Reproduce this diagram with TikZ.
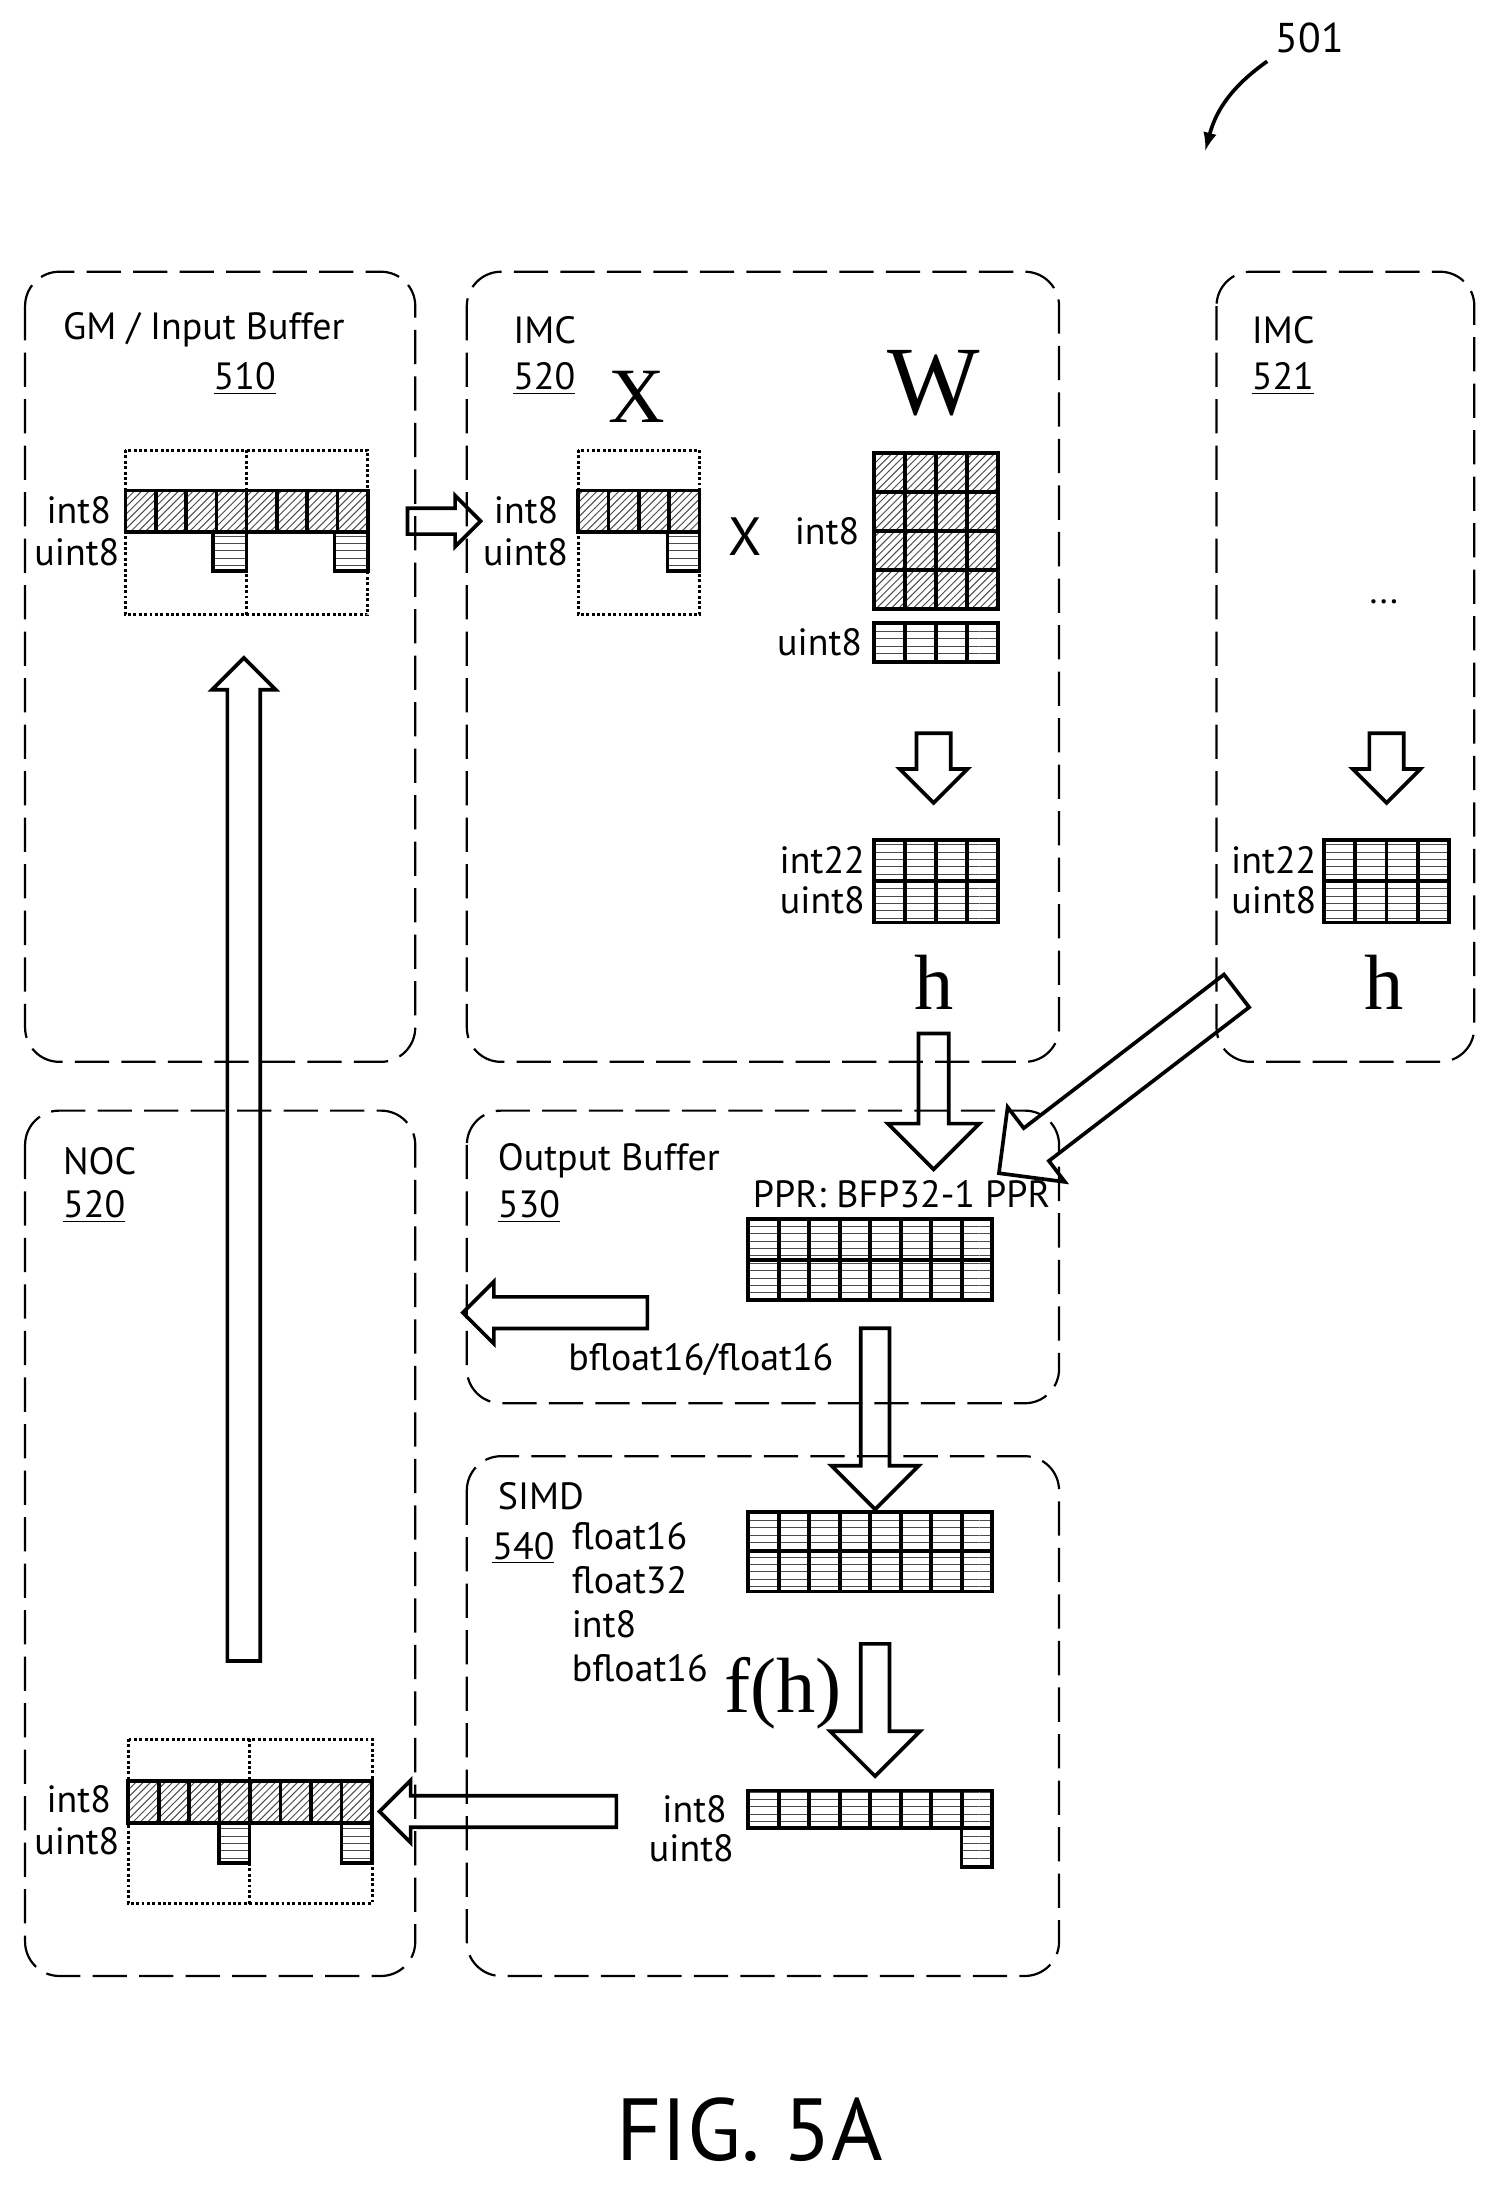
\documentclass[tikz,border=0pt]{standalone}
\usepackage{fontspec}
\setmainfont{PT Sans}
\newfontfamily\varfont{Liberation Serif}
\usetikzlibrary{shapes.arrows,patterns,calc}

% one row of cells: x0,y0,x1,y1,cells,pattern
\newcommand\cellrow[6]{%
  \fill[pattern=#6,pattern color=black!70] (#1,#2) rectangle (#3,#4);
  \draw[cell] (#1,#2) rectangle (#3,#4);
  \foreach \k in {1,...,#5} {\draw[cell] ({#1+(#3-#1)*\k/#5},#2) -- ({#1+(#3-#1)*\k/#5},#4);}
}

\begin{document}
\begin{tikzpicture}[
        x=0.02cm, y=-0.02cm,
        box/.style={draw, dash pattern=on 14pt off 5pt, rounded corners=14pt, line width=0.9pt},
        frame/.style={draw, densely dotted, line width=1.2pt},
        cell/.style={line width=1.5pt},
        lbl/.style={font=\fontsize{15.5}{16}\selectfont, inner sep=0pt, align=right},
        ttl/.style={font=\fontsize{15.5}{18}\selectfont, inner sep=0pt, anchor=west, align=left},
        var/.style={font=\varfont\fontsize{32}{32}\selectfont, inner sep=0pt},
        blk/.style 2 args={single arrow, draw, line width=1.5pt, single arrow head extend=#1,
            inner xsep=0pt, inner ysep=#2, anchor=center}
    ]
        \useasboundingbox (0,0) rectangle (1075,1571.6);

        % reference mark
        \node[font=\fontsize{17}{18}\selectfont] (ref) at (940,27) {501};
        \coordinate (refend) at (865,108);
        \draw[line width=1.5pt,-latex] (ref.south west) to[bend right=20] (refend);

        % regions
        \draw[box] (18,195) rectangle (298,762);
        \draw[box] (335,195) rectangle (760,762);
        \draw[box] (873,195) rectangle (1058,762);
        \draw[box] (18,797) rectangle (298,1418);
        \draw[box] (335,797) rectangle (760,1007);
        \draw[box] (335,1045) rectangle (760,1418);

        % titles
        \node[ttl] (gm) at (45,237) {GM / Input Buffer};
        \node[ttl] (gmnum) at (153,272) {\underline{510}};
        \node[ttl] (imc) at (368,237) {IMC};
        \node[ttl] (imcnum) at (368,272) {\underline{520}};
        \node[ttl] (imcb) at (898,237) {IMC};
        \node[ttl] (imcbnum) at (898,272) {\underline{521}};
        \node[ttl] (noc) at (45,833) {NOC};
        \node[ttl] (nocnum) at (45,866) {\underline{520}};
        \node[ttl] (outb) at (357,833) {Output Buffer};
        \node[ttl] (outbnum) at (357,866) {\underline{530}};
        \node[ttl] (simd) at (357,1074) {SIMD};
        \node[ttl] (simdnum) at (353,1111) {\underline{540}};
        \node[ttl, anchor=north west] (types) at (410,1092) {float16\\float32\\int8\\bfloat16};

        % input buffer vector
        \draw[frame] (90,323) rectangle (264,441);
        \draw[frame] (177,323) -- (177,441);
        \cellrow{90}{352}{264}{382}{8}{north east lines}
        \cellrow{153}{382}{177}{410}{1}{horizontal lines}
        \cellrow{240}{382}{264}{410}{1}{horizontal lines}
        \node[lbl, anchor=east] (gmi) at (80,366) {int8};
        \node[lbl, anchor=east] (gmu) at (86,396) {uint8};

        % IMC input vector
        \draw[frame] (415,323) rectangle (502,441);
        \cellrow{415}{352}{502}{382}{4}{north east lines}
        \cellrow{479}{382}{502}{410}{1}{horizontal lines}
        \node[lbl, anchor=east] (xi) at (401,366) {int8};
        \node[lbl, anchor=east] (xu) at (408,396) {uint8};
        \node[var] (xlab) at (457,285) {X};
        \node[font=\fontsize{22}{22}\selectfont] (times) at (535,385) {X};

        % weights
        \node[var, font=\varfont\fontsize{40}{40}\selectfont] (wlab) at (670,275) {W};
        \cellrow{627}{325}{716}{353}{4}{north east lines}
        \cellrow{627}{353}{716}{381}{4}{north east lines}
        \cellrow{627}{381}{716}{409}{4}{north east lines}
        \cellrow{627}{409}{716}{437}{4}{north east lines}
        \cellrow{627}{447}{716}{475}{4}{horizontal lines}
        \node[lbl, anchor=east] (wi) at (617,381) {int8};
        \node[lbl, anchor=east] (wu) at (619,461) {uint8};

        % IMC outputs
        \cellrow{627}{603}{716}{632}{4}{horizontal lines}
        \cellrow{627}{632}{716}{662}{4}{horizontal lines}
        \node[lbl, anchor=east] (hai) at (621,617) {int22};
        \node[lbl, anchor=east] (hau) at (621,646) {uint8};
        \node[var] (ha) at (670,705) {h};
        \node[font=\fontsize{15}{15}\selectfont] (dots) at (993,432) {...};
        \cellrow{950}{603}{1040}{632}{4}{horizontal lines}
        \cellrow{950}{632}{1040}{662}{4}{horizontal lines}
        \node[lbl, anchor=east] (hbi) at (945,617) {int22};
        \node[lbl, anchor=east] (hbu) at (945,646) {uint8};
        \node[var] (hb) at (993,705) {h};

        % output buffer
        \node[lbl, anchor=center] (ppr) at (647,857) {PPR: BFP32-1 PPR};
        \cellrow{537}{875}{712}{904}{8}{horizontal lines}
        \cellrow{537}{904}{712}{933}{8}{horizontal lines}
        \node[lbl, anchor=center] (bf) at (503,976) {bfloat16/float16};

        % SIMD
        \cellrow{537}{1085}{712}{1113}{8}{horizontal lines}
        \cellrow{537}{1113}{712}{1142}{8}{horizontal lines}
        \node[var] (fh) at (562,1215) {f(h)};
        \cellrow{537}{1285}{712}{1312}{8}{horizontal lines}
        \cellrow{690}{1312}{712}{1340}{1}{horizontal lines}
        \node[lbl, anchor=east] (si) at (522,1298) {int8};
        \node[lbl, anchor=east] (su) at (527,1326) {uint8};

        % NOC vector
        \draw[frame] (92,1248) rectangle (267,1366);
        \draw[frame] (179,1248) -- (179,1366);
        \cellrow{92}{1278}{267}{1308}{8}{north east lines}
        \cellrow{157}{1308}{179}{1337}{1}{horizontal lines}
        \cellrow{245}{1308}{267}{1337}{1}{horizontal lines}
        \node[lbl, anchor=east] (ni) at (80,1291) {int8};
        \node[lbl, anchor=east] (nu) at (86,1321) {uint8};

        % block arrows
        \node[blk={0.18cm}{0.16cm}, minimum height=1.05cm] (a1) at (314,374) {};
        \node[blk={0.24cm}{0.22cm}, minimum height=1.0cm, rotate=-90] (a2) at (670,545) {};
        \node[blk={0.24cm}{0.22cm}, minimum height=1.0cm, rotate=-90] (a3) at (995,545) {};
        \node[blk={0.44cm}{0.19cm}, minimum height=1.95cm, rotate=-90] (a4) at (670,785) {};
        \node[blk={0.38cm}{0.27cm}, minimum height=4.3cm, rotate=-142.5] (a5) at (808,772) {};
        \node[blk={0.22cm}{0.2cm}, minimum height=2.65cm, rotate=180] (a6) at (404,942) {};
        \node[blk={0.42cm}{0.18cm}, minimum height=2.6cm, rotate=-90] (a7) at (628,1013) {};
        \node[blk={0.44cm}{0.18cm}, minimum height=1.9cm, rotate=-90] (a8) at (628,1222) {};
        \node[blk={0.22cm}{0.2cm}, minimum height=3.4cm, rotate=180] (a9) at (363,1300) {};
        \node[blk={0.22cm}{0.21cm}, minimum height=14.4cm, rotate=90] (a10) at (175,838) {};

        \node[font=\fontsize{36}{36}\selectfont] (fig) at (538,1528) {FIG. 5A};
    \end{tikzpicture}
\end{document}
